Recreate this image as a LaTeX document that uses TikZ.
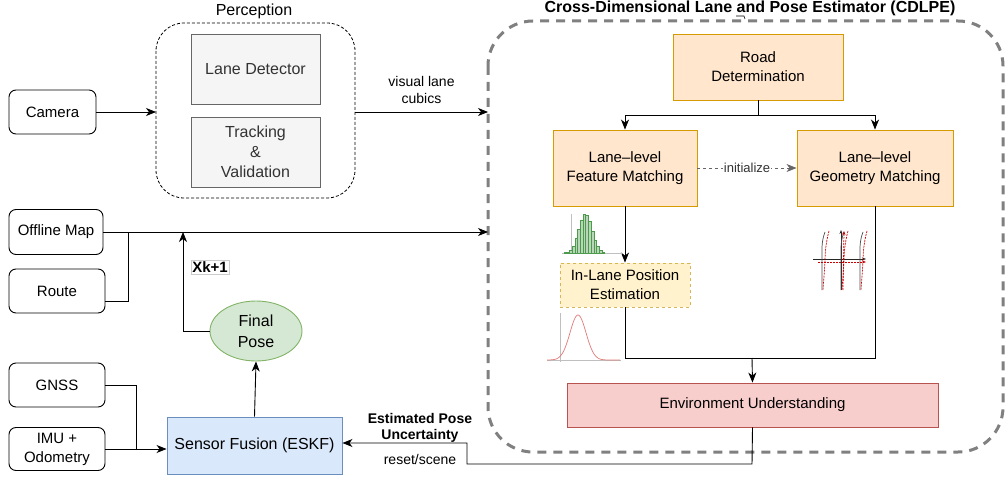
\documentclass[tikz,border=0pt]{standalone}
\usepackage{fontspec}
\setmainfont{Liberation Sans}
\usetikzlibrary{arrows.meta,shapes.geometric}
\definecolor{grayfill}{HTML}{F5F5F5}
\definecolor{graydraw}{HTML}{666666}
\definecolor{orfill}{HTML}{FFE6CC}
\definecolor{ordraw}{HTML}{D79B00}
\definecolor{yefill}{HTML}{FFF2CC}
\definecolor{yedraw}{HTML}{D6B656}
\definecolor{refill}{HTML}{F8CECC}
\definecolor{redraw}{HTML}{B85450}
\definecolor{blfill}{HTML}{DAE8FC}
\definecolor{bldraw}{HTML}{6C8EBF}
\definecolor{grfill}{HTML}{D5E8D4}
\definecolor{grdraw}{HTML}{82B366}
\definecolor{cdlpe}{HTML}{808080}
\definecolor{histg}{HTML}{4D9A4D}
\definecolor{gaus}{HTML}{E07A78}
\tikzset{
  txt/.style={font=\fontsize{15}{19}\selectfont, align=center, inner sep=0pt},
  inbox/.style={draw, rounded corners=7, line width=0.9pt, txt},
  graybox/.style={draw=graydraw, fill=grayfill, line width=0.7pt, txt, text=black!80},
  orbox/.style={draw=ordraw, fill=orfill, line width=0.9pt, txt},
  arr/.style={-{Stealth[length=10pt,width=8pt,inset=3pt]}, line width=0.9pt},
  ln/.style={line width=0.9pt},
}
\begin{document}
\begin{tikzpicture}[x=1pt,y=-1pt]
\useasboundingbox (0,0) rectangle (1008,481);
% containers
\draw[dashed, line width=0.8pt, rounded corners=28, dash pattern=on 3pt off 2pt] (156,23) rectangle (355,198);
\node[txt, font=\fontsize{16}{18}\selectfont] (perc) at (254,11) {Perception};
\draw[cdlpe, line width=3pt, rounded corners=45, dash pattern=on 9pt off 7pt] (488,21) rectangle (1003,452);
\node[txt, font=\fontsize{16}{18}\selectfont\bfseries] (cdtitle) at (750,8) {Cross-Dimensional Lane and Pose Estimator (CDLPE)};
\draw[line width=0.6pt] (736,16) -- (744,16) -- (745,19);
% left input nodes
\node[inbox, minimum width=87pt, minimum height=44pt] (cam) at (52.5,112) {Camera};
\node[inbox, minimum width=94pt, minimum height=45pt] (map) at (56,232) {Offline Map};
\node[inbox, minimum width=96pt, minimum height=44pt] (route) at (57,291) {Route};
\node[inbox, minimum width=96pt, minimum height=44pt] (gnss) at (57,385) {GNSS};
\node[inbox, minimum width=96pt, minimum height=43pt] (imu) at (57,449) {IMU +\\Odometry};
% perception internals
\node[graybox, minimum width=129pt, minimum height=70pt, font=\fontsize{16}{18}\selectfont] (lane) at (255.5,69) {Lane Detector};
\node[graybox, minimum width=129pt, minimum height=70pt, font=\fontsize{16}{20}\selectfont] (track) at (255.5,152) {Tracking\\\&\\Validation};
% sensor fusion & pose
\node[draw=bldraw, fill=blfill, line width=0.9pt, txt, minimum width=175pt, minimum height=57pt, font=\fontsize{16}{18}\selectfont] (fusion) at (254.5,445.5) {Sensor Fusion (ESKF)};
\node[ellipse, draw=grdraw, fill=grfill, line width=0.9pt, txt, minimum width=92pt, minimum height=60pt, font=\fontsize{16}{21}\selectfont] (pose) at (256,331) {Final\\Pose};
% CDLPE internals
\node[orbox, minimum width=170pt, minimum height=66pt] (road) at (758,67) {Road\\Determination};
\node[orbox, minimum width=144pt, minimum height=76pt] (feat) at (625,168) {Lane\textendash level\\Feature Matching};
\node[orbox, minimum width=156pt, minimum height=76pt] (geom) at (875,168) {Lane\textendash level\\Geometry Matching};
\node[draw=yedraw, fill=yefill, dashed, line width=0.9pt, txt, minimum width=130pt, minimum height=44pt] (inlane) at (625,285) {In-Lane Position\\Estimation};
\node[draw=redraw, fill=refill, line width=0.9pt, txt, minimum width=371pt, minimum height=44pt] (env) at (752.5,405) {Environment Understanding};
% coordinates
\coordinate (cdl) at (488,112);
\coordinate (cdm) at (488,232);
\coordinate (jmap) at (128,232);
\coordinate (jpose) at (183,232);
\coordinate (jgn) at (136,449);
\coordinate (cdlper) at (355,112);
\coordinate (perl) at (156,112);
\coordinate (rte) at (105,301);
% connectors
\draw[arr] (cam.east) -- (perl);
\draw[arr] (cdlper) -- (cdl) node[pos=0.5, above=8pt, txt, font=\fontsize{14}{17}\selectfont] (vlc) {visual lane\\cubics};
\draw[ln] (map.east) -- (jmap);
\draw[arr] (jmap) -- (cdm);
\draw[ln] (rte) -- (rte -| jmap) -- (jmap);
\draw[arr] (pose.west) -- (pose.west -| jpose) -- (jpose);
\node[draw=black!20, fill=white, line width=0.5pt, inner sep=1.5pt, font=\fontsize{15}{18}\selectfont\bfseries] (xk) at (210,267) {Xk+1};
\draw[ln] (gnss.east) -- (gnss.east -| jgn) -- (jgn);
\draw[ln] (imu.east) -- (jgn);
\draw[arr] (jgn) -- (jgn -| fusion.west);
\draw[arr] (fusion.north) -- (pose.south);
% CDLPE connectors
\coordinate (rj) at (758,115);
\draw[ln] (road.south) -- (rj);
\draw[arr] (rj) -- (rj -| feat.north) -- (feat.north);
\draw[arr] (rj) -- (rj -| geom.north) -- (geom.north);
\draw[-{Stealth[length=10pt,width=8pt,inset=3pt]}, graydraw, dashed, line width=0.8pt] (feat.east) -- (geom.west) node[midway, fill=white, inner sep=1pt, text=black!80, font=\fontsize{13}{15}\selectfont] (init) {initialize};
\draw[arr] (feat.south) -- (inlane.north);
\coordinate (ej) at (752,358);
\draw[ln] (inlane.south) -- (inlane.south |- ej) -- (ej);
\draw[ln] (geom.south) -- (geom.south |- ej) -- (ej);
\draw[arr] (ej) -- (env.north);
\coordinate (b1) at (752,464);
\coordinate (b2) at (467,464);
\coordinate (b3) at (467,443);
\draw[arr] (env.south) -- (b1) -- (b2) -- (b3) -- (b3 -| fusion.east);
\node[txt, font=\fontsize{14}{16}\selectfont\bfseries] (epu) at (420,428) {Estimated Pose\\Uncertainty};
\node[txt, font=\fontsize{14}{16}\selectfont] (rs) at (420,459) {reset/scene};
% histogram
\draw[black!25, line width=0.6pt] (571,214) -- (571,253);
\draw[black!25, line width=0.6pt] (562,253) -- (622,253);
\foreach \i in {0,...,14} {
  \pgfmathsetmacro{\xx}{564+\i*2.7}
  \pgfmathsetmacro{\hh}{39*exp(-((\xx-584)/6.5)^2/2)}
  \draw[histg, fill=histg!40, line width=0.4pt] (\xx,253) rectangle (\xx+2.7,253-\hh);
}
% gaussian
\draw[black!25, line width=0.6pt] (560,313) -- (560,362);
\draw[black!25, line width=0.6pt] (547,360) -- (621,360);
\draw[gaus, line width=0.7pt, smooth, samples=80, domain=547:620] plot (\x, {360-45*exp(-((\x-578)/8)^2/2)});
% geometry plot
\draw[black!85, line width=0.7pt, -{Stealth[length=4pt,width=3pt]}] (813,259) -- (866,259);
\draw[black!85, line width=0.7pt, -{Stealth[length=4pt,width=3pt]}] (841,290) -- (841,230);
\foreach \dx in {0,19,38} {
  \draw[black!70, line width=0.7pt] (825+\dx,232) .. controls (821+\dx,242) and (822+\dx,252) .. (822+\dx,262) -- (822+\dx,290);
  \draw[red!80!black, dashed, dash pattern=on 2pt off 1pt, line width=0.7pt] (829+\dx,231) .. controls (826+\dx,242) and (825+\dx,252) .. (825+\dx,262) -- (823+\dx,290);
}
\draw[red!80!black, dashed, dash pattern=on 2pt off 1pt, line width=0.7pt, -{Stealth[length=4pt,width=3pt]}] (818,262) -- (866,262);
\draw[red!80!black, dashed, dash pattern=on 2pt off 1pt, line width=0.7pt, -{Stealth[length=4pt,width=3pt]}] (843,290) -- (844,231);
\end{tikzpicture}
\end{document}
